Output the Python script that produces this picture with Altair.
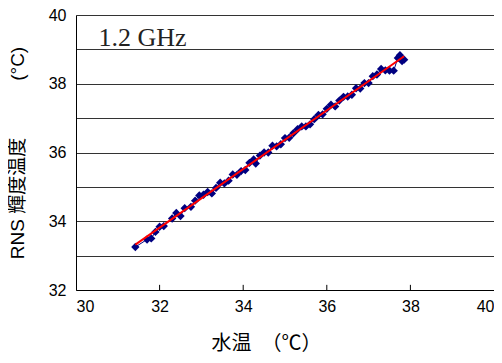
import altair as alt
import pandas as pd

water_temp = [31.42, 31.70, 31.80, 31.90, 32.00, 32.10, 32.30, 32.40, 32.50, 32.60,
              32.75, 32.85, 32.95, 33.05, 33.15, 33.25, 33.35, 33.45, 33.55, 33.65,
              33.75, 33.85, 33.95, 34.05, 34.15, 34.25, 34.30, 34.40, 34.50, 34.60,
              34.70, 34.80, 34.90, 35.00, 35.10, 35.20, 35.30, 35.40, 35.50, 35.60,
              35.70, 35.80, 35.90, 36.00, 36.10, 36.20, 36.30, 36.40, 36.50, 36.60,
              36.70, 36.80, 36.90, 37.00, 37.10, 37.20, 37.30, 37.40, 37.50, 37.60,
              37.70, 37.75, 37.80, 37.85]
rns_tb = [33.25, 33.47, 33.50, 33.69, 33.84, 33.86, 34.08, 34.24, 34.15, 34.38,
          34.42, 34.60, 34.75, 34.77, 34.85, 34.81, 34.97, 35.12, 35.10, 35.18,
          35.36, 35.35, 35.46, 35.49, 35.70, 35.80, 35.68, 35.91, 36.00, 36.00,
          36.20, 36.18, 36.24, 36.42, 36.43, 36.56, 36.68, 36.76, 36.76, 36.82,
          36.97, 37.09, 37.11, 37.27, 37.39, 37.34, 37.51, 37.62, 37.63, 37.68,
          37.87, 37.86, 38.02, 38.02, 38.22, 38.27, 38.43, 38.39, 38.38, 38.38,
          38.75, 38.83, 38.66, 38.70]

x_labels = [30, 32, 34, 36, 38, 40]
x_ticks = [32, 34, 36, 38]
y_grid = [32, 33, 34, 35, 36, 37, 38, 39, 40]
label_text = ["1.2 GHz"]
label_x = [30.54]
label_y = [39.1]

df = pd.DataFrame({"x": water_temp, "y": rns_tb})
ticks_df = pd.DataFrame({"x": x_ticks, "y0": [32] * len(x_ticks), "y1": [32.15] * len(x_ticks)})
lab_df = pd.DataFrame({"t": label_text, "x": label_x, "y": label_y})

xs = alt.Scale(domain=[30, 40], nice=False, zero=False)
ys = alt.Scale(domain=[32, 40], nice=False, zero=False)

title_font = "Liberation Sans, Noto Sans CJK JP"

xaxis = alt.Axis(values=x_labels, grid=False, ticks=False, labelFlush=True,
                 title="水温　（℃）", labelFontSize=16, titleFontSize=20,
                 labelPadding=8, titlePadding=19, titleX=190, domainColor="#000",
                 labelColor="#000", titleColor="#000", titleFontWeight="normal",
                 labelFont="Liberation Sans", titleFont=title_font)
yaxis = alt.Axis(values=y_grid, grid=True, gridColor="#333", gridWidth=1,
                 ticks=False, labelExpr="datum.value % 2 == 0 ? datum.label : ''",
                 title="RNS  輝度温度　　　(°C)", labelFontSize=16, titleFontSize=19,
                 labelPadding=10, titlePadding=21, domainColor="#000",
                 labelColor="#000", titleColor="#000", titleFontWeight="normal",
                 labelFont="Liberation Sans", titleFont=title_font)

X = alt.X("x:Q", scale=xs, axis=xaxis)
Y = alt.Y("y:Q", scale=ys, axis=yaxis)

base = alt.Chart(df)
conn = base.mark_line(color="#000080", strokeWidth=1).encode(x=X, y=Y, order="x:Q")
pts = base.mark_point(shape="diamond", filled=True, color="#000080", size=70, opacity=1).encode(x=X, y=Y)
fit = base.transform_regression("x", "y").mark_line(color="#ff0000", strokeWidth=2).encode(x=X, y=Y)
tks = alt.Chart(ticks_df).mark_rule(color="#000", strokeWidth=1).encode(
    x=alt.X("x:Q", scale=xs, axis=xaxis), y=alt.Y("y0:Q", scale=ys, axis=yaxis), y2="y1:Q"
)
txt = alt.Chart(lab_df).mark_text(align="left", baseline="alphabetic", font="Liberation Serif",
                                  fontSize=26, color="#222").encode(
    x=alt.X("x:Q", scale=xs, axis=xaxis), y=alt.Y("y:Q", scale=ys, axis=yaxis), text="t:N"
)

chart = alt.layer(conn, pts, fit, tks, txt).properties(
    width=418, height=275,
    autosize=alt.AutoSizeParams(type="none"),
    padding={"left": 68, "top": 7, "right": 0, "bottom": 65},
).configure_view(stroke=None).configure(background="white")

chart.save("out.html", embed_options={"renderer": "svg", "actions": False})
